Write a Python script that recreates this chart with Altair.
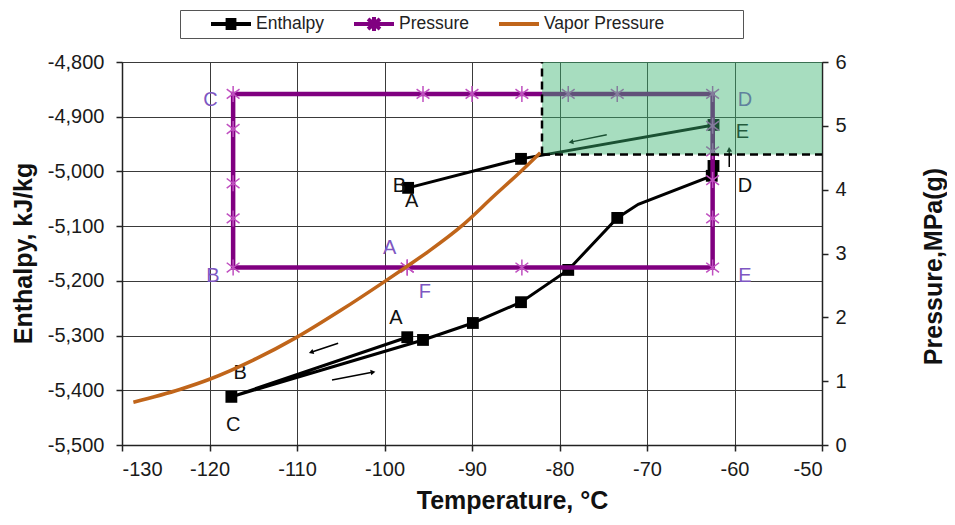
import altair as alt
import pandas as pd

FONT = "Liberation Sans"

# ---------------- data ----------------
# Enthalpy (left axis, kJ/kg) vs temperature (deg C)
enth_t = [-97.4, -117.5, -95.6, -89.9, -84.4, -79.0, -73.4, -71.0, -62.6, -62.4, -62.4, -84.4, -97.3]
enth_h = [-5303, -5412, -5308, -5277, -5239, -5180, -5085, -5060, -5008, -4990, -4915, -4977, -5030]
enth_marker = [1, 1, 1, 1, 1, 1, 1, 0, 1, 1, 1, 1, 1]

# Pressure (right axis, MPa(g)) vs temperature
pres_t = [-97.4, -117.3, -117.3, -117.3, -117.3, -117.3, -95.6, -90.0, -84.3, -79.0, -73.4,
          -62.5, -62.5, -62.5, -62.5, -62.5, -62.5, -84.3, -97.4]
pres_p = [2.78, 2.78, 3.55, 4.10, 4.95, 5.50, 5.50, 5.50, 5.50, 5.50, 5.50,
          5.50, 5.00, 4.60, 4.15, 3.55, 2.78, 2.78, 2.78]

# Vapor pressure curve (right axis)
vap_t = [-128.7, -123.4, -120.0, -115.0, -110.0, -105.0, -100.0, -97.2, -95.0, -91.1, -87.5, -84.7, -82.2]
vap_p = [0.67, 0.87, 1.03, 1.33, 1.69, 2.11, 2.56, 2.82, 3.03, 3.44, 3.90, 4.25, 4.58]

# Shaded zone (right axis units)
zone_t = [-82.0]
zone_t2 = [-50.0]
zone_p = [4.55]
zone_p2 = [6.0]

# Point labels
enth_lbl = ["E", "D", "B", "A", "A", "B", "C"]
enth_lbl_t = [-59.1, -58.8, -98.3, -96.9, -98.7, -116.5, -117.3]
enth_lbl_h = [-4928, -5027, -5027, -5054, -5268, -5369, -5464]

pres_lbl = ["C", "D", "B", "E", "A", "F"]
pres_lbl_t = [-119.9, -58.8, -119.6, -58.8, -99.4, -95.4]
pres_lbl_p = [5.41, 5.41, 2.65, 2.65, 3.09, 2.40]

# Direction arrows (enthalpy units)
arr_t = [-105.3, -106.0, -74.6, -60.6]
arr_h = [-5314, -5381, -4933, -4992]
arr_t2 = [-108.3, -101.4, -78.6, -60.6]
arr_h2 = [-5330, -5367, -4946, -4961]
arr_angle = [251, 79, 259, 355]

series = ["Enthalpy", "Pressure", "Vapor Pressure", "          "]
series_colors = ["#000000", "#800080", "#C0651A", "#ffffff"]

x_ticks = list(range(-130, -49, 10))
yl_ticks = list(range(-5500, -4799, 100))
yr_ticks = [0, 1, 2, 3, 4, 5, 6]

# ---------------- frames ----------------
df_enth = pd.DataFrame({"t": enth_t, "h": enth_h, "m": enth_marker, "i": range(len(enth_t))})
df_pres = pd.DataFrame({"t": pres_t, "p": pres_p, "i": range(len(pres_t))})
df_vap = pd.DataFrame({"t": vap_t, "p": vap_p})
df_zone = pd.DataFrame({"t": zone_t, "t2": zone_t2, "p": zone_p, "p2": zone_p2})
df_el = pd.DataFrame({"t": enth_lbl_t, "h": enth_lbl_h, "s": enth_lbl})
df_pl = pd.DataFrame({"t": pres_lbl_t, "p": pres_lbl_p, "s": pres_lbl})
df_arr = pd.DataFrame({"t": arr_t, "h": arr_h, "t2": arr_t2, "h2": arr_h2, "a": arr_angle})
df_leg = pd.DataFrame({"s": series[:3]})

XD = [-130, -50]
YLD = [-5500, -4800]
YRD = [0, 6]

X_LBL = "(datum.value < 0 ? '-' : '') + format(abs(datum.value), 'd')"
YL_LBL = "(datum.value < 0 ? '-' : '') + format(abs(datum.value), ',d')"

x_axis = alt.Axis(values=x_ticks, title="Temperature, °C", grid=True, labelExpr=X_LBL,
                  titleX=390, titleY=55, titleBaseline="middle", labelPadding=8)
yl_axis = alt.Axis(values=yl_ticks, title="Enthalpy, kJ/kg", grid=True, orient="left",
                   labelExpr=YL_LBL, titleX=-99, titleY=191, titleAngle=270,
                   titleBaseline="middle", labelPadding=12)
yr_axis = alt.Axis(values=yr_ticks, format="d", title="Pressure,MPa(g)", grid=False, orient="right",
                   titleX=111, titleY=204, titleAngle=270, titleBaseline="middle", labelPadding=7)

def X(f="t"):
    # every layer carries the same explicit x axis so the shared axis merges cleanly
    return alt.X(f + ":Q", scale=alt.Scale(domain=XD, nice=False, zero=False), axis=x_axis)

def YL(f="h", axis=None):
    return alt.Y(f + ":Q", scale=alt.Scale(domain=YLD, nice=False, zero=False), axis=axis)

def YR(f="p", axis=None):
    return alt.Y(f + ":Q", scale=alt.Scale(domain=YRD, nice=False, zero=False), axis=axis)

# ---------------- enthalpy layers ----------------
enth_line = alt.Chart(df_enth).mark_line(color="black", strokeWidth=3).encode(
    x=X(), y=YL(axis=yl_axis), order="i:Q")
enth_sq = alt.Chart(df_enth).transform_filter("datum.m == 1").mark_square(
    color="black", size=140, opacity=1).encode(x=X(), y=YL())
arr_line = alt.Chart(df_arr).mark_rule(color="black", strokeWidth=1.5).encode(
    x=X(), y=YL(), x2="t2:Q", y2="h2:Q")
arr_head = alt.Chart(df_arr).mark_point(shape="triangle", filled=True, color="black",
                                        size=30, opacity=1).encode(
    x=X("t2"), y=YL("h2"), angle=alt.Angle("a:Q", scale=None))
enth_txt = alt.Chart(df_el).mark_text(font=FONT, fontSize=20, color="#111",
                                      baseline="middle", align="center").encode(
    x=X(), y=YL(), text="s:N")

# ---------------- pressure layers ----------------
STAR = "M0,-1L0,1M-0.8,-0.6L0.8,0.6M-0.8,0.6L0.8,-0.6"
pres_line = alt.Chart(df_pres).mark_line(color="#800080", strokeWidth=4.5).encode(
    x=X(), y=YR(axis=yr_axis), order="i:Q")
pres_star = alt.Chart(df_pres).mark_point(shape=STAR, filled=False, color="#C050C0",
                                          size=256, strokeWidth=1.5, opacity=1).encode(
    x=X(), y=YR())
vap_line = alt.Chart(df_vap).mark_line(color="#C0651A", strokeWidth=3.5,
                                       interpolate="monotone").encode(x=X(), y=YR())
pres_txt = alt.Chart(df_pl).mark_text(font=FONT, fontSize=20, color="#7E57C2",
                                      baseline="middle", align="center").encode(
    x=X(), y=YR(), text="s:N")
zone = alt.Chart(df_zone).mark_rect(color="#3CB371", opacity=0.45).encode(
    x=X(), x2="t2:Q", y=YR(), y2="p2:Q")
zone_v = alt.Chart(df_zone).mark_rule(color="black", strokeWidth=2.5, strokeDash=[8, 5]).encode(
    x=X(), y=YR(), y2="p2:Q")
zone_h = alt.Chart(df_zone).mark_rule(color="black", strokeWidth=2.5, strokeDash=[8, 5]).encode(
    x=X(), x2="t2:Q", y=YR())

PATH_E = ("M-1,0L1,0M-0.27,-0.2L0.27,-0.2M-0.27,-0.07L0.27,-0.07"
          "M-0.27,0.07L0.27,0.07M-0.27,0.2L0.27,0.2")
PATH_P = "M-1,0L1,0M0,-0.35L0,0.35M-0.3,-0.25L0.3,0.25M-0.3,0.25L0.3,-0.25"
PATH_V = "M-1,0L1,0"
PATH_BLANK = "M0,0"

leg = alt.Legend(orient="none", legendX=58, legendY=-52, direction="horizontal",
                 title=" ", titleOrient="left", titlePadding=25, titleFontSize=17,
                 symbolSize=1600, symbolStrokeWidth=4, labelFont=FONT, labelFontSize=17.5,
                 labelColor="#222", strokeColor="#555", fillColor="white", padding=4,
                 columnPadding=27, labelOffset=3, symbolOpacity=1, clipHeight=20)
legend_layer = alt.Chart(df_leg).mark_point(filled=False, strokeWidth=4, opacity=1).encode(
    x=alt.value(-3000), y=alt.value(-3000),
    color=alt.Color("s:N", scale=alt.Scale(domain=series, range=series_colors), legend=leg),
    shape=alt.Shape("s:N", scale=alt.Scale(domain=series,
                                           range=[PATH_E, PATH_P, PATH_V, PATH_BLANK]),
                    legend=leg))

chart = alt.layer(
    enth_line, enth_sq, arr_line, arr_head, enth_txt,
    pres_line, pres_star, vap_line, pres_txt, zone, zone_v, zone_h, legend_layer,
).resolve_scale(y="independent").properties(
    width=700, height=383, autosize=alt.AutoSizeParams(type="none"),
    padding={"left": 114, "top": 54, "right": 125, "bottom": 72},
).configure_axis(
    labelFont=FONT, labelFontSize=20, labelColor="#1a1a1a",
    titleFont=FONT, titleFontSize=25, titleFontWeight="bold", titleColor="#111",
    gridColor="#3a3a3a", gridWidth=1, gridOpacity=1,
    domainColor="#222", domainWidth=1.5, tickColor="#222", tickSize=6, tickWidth=1.5,
).configure_view(stroke="#c8c8c8")

chart.save("out.html", embed_options={"renderer": "svg", "actions": False})
